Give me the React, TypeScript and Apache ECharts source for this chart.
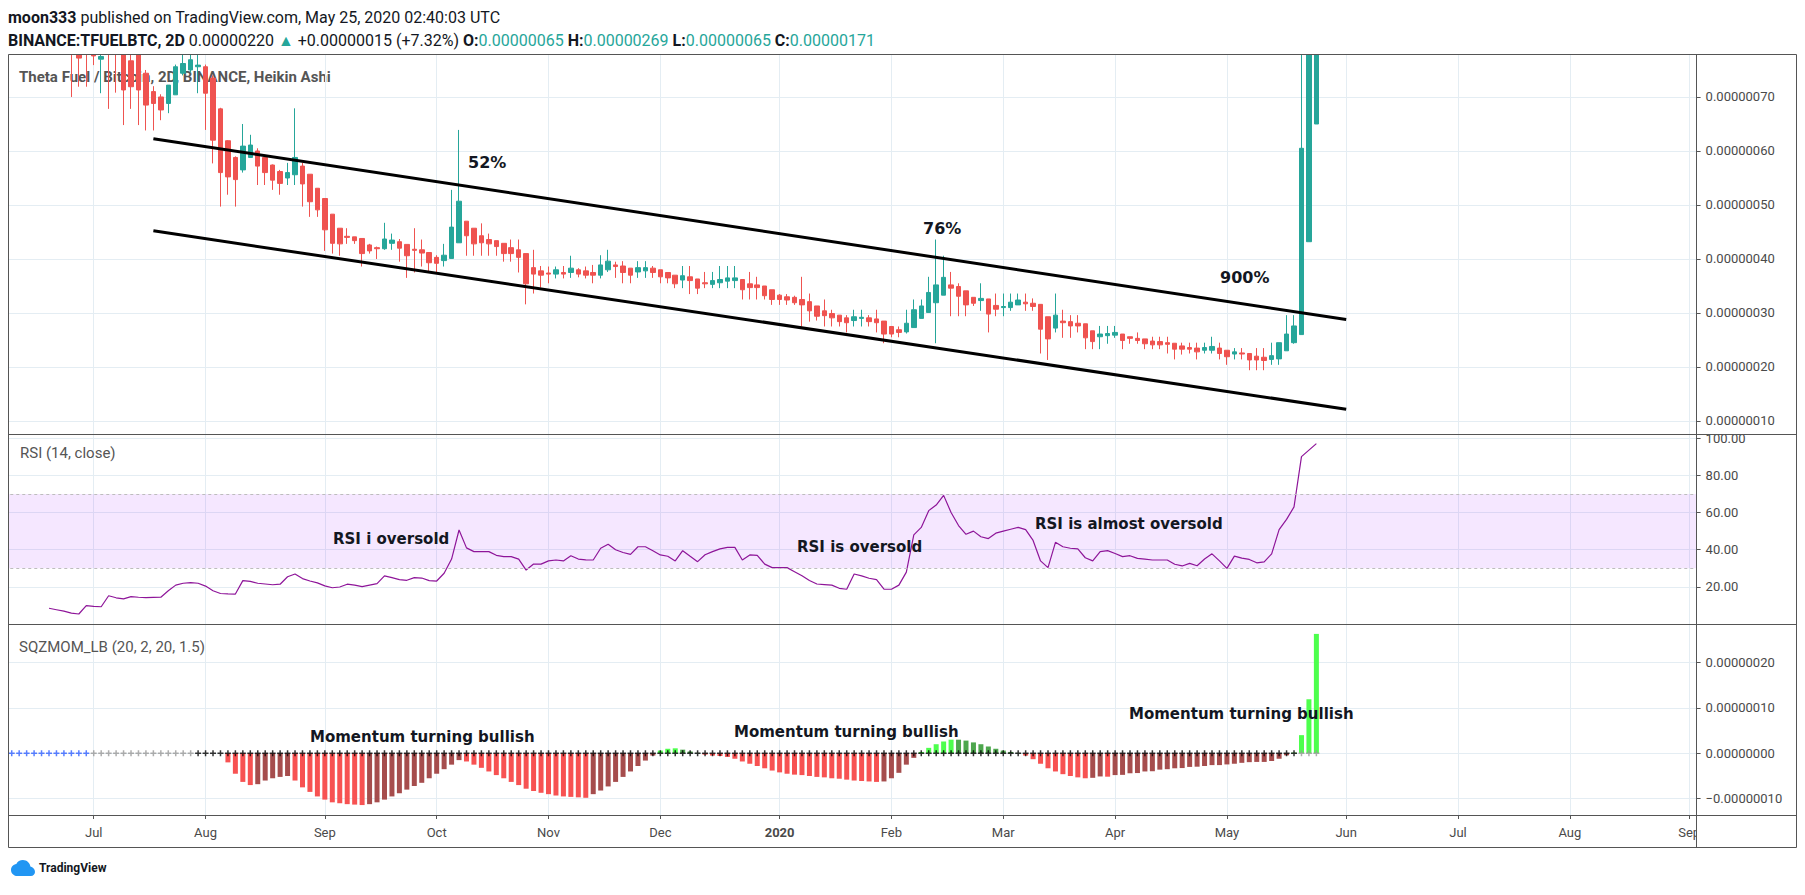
import React, { useEffect, useRef } from "react";
import * as echarts from "echarts";

// ---------------- time axis (2-day bars) ----------------
const DAY = 86400000;
const AXIS_START_UTC = Date.UTC(2019, 5, 7); // first category (empty)
const BAR_DAYS = 2;
const CATEGORY_COUNT = 228; // Jun 7 2019 .. Sep 3 2020
const MONTH_NAMES = ["Jan", "Feb", "Mar", "Apr", "May", "Jun", "Jul", "Aug", "Sep", "Oct", "Nov", "Dec"];

// ---------------- price: Heikin Ashi candles, in satoshi (1e-8 BTC) ----------------
const CANDLE_START = "2019-06-25";
// [open, close, low, high]
const candlesSat: number[][] = [
  [83, 80, 70, 85], [79, 77.2, 71.9, 81], [80, 78.6, 71.9, 82], [79, 77.6, 75.9, 80], [77, 77.5, 70.7, 80],
  [79, 78, 67.8, 81], [80, 78.5, 70.8, 82], [79, 71.3, 64.8, 80], [76.7, 71.9, 67.8, 78], [79, 71.3, 64.8, 80],
  [74.4, 68.5, 63.8, 75], [71, 68.8, 63.8, 72], [70, 67.6, 65.7, 70.5], [68.8, 72.2, 67, 72.2], [70.4, 75.6, 70.4, 76],
  [74.4, 76.2, 74, 79], [75, 76.9, 74.5, 80], [75.6, 75.9, 70.7, 79], [75.6, 70.7, 63.9, 76], [73.5, 62, 57.7, 74],
  [67.8, 56, 49.7, 68], [61.9, 55.2, 51.9, 62], [58.8, 54.7, 49.7, 59], [56.5, 60.9, 56, 65], [58.8, 61.1, 58.8, 63],
  [60, 57.2, 53.7, 60.5], [58.8, 56, 53.7, 59], [57.4, 54.6, 52.8, 57.5], [56.2, 54, 51.9, 56.5], [55, 56, 53.7, 57.8],
  [55.6, 58.8, 53.7, 67.9], [57.2, 53.9, 49.7, 57.8], [55.7, 50.6, 47.8, 55.7], [53.1, 49.1, 47.8, 53.1], [51.2, 45.4, 41.5, 51.2],
  [48.3, 42.9, 41, 48.3], [45.7, 42.8, 40.6, 45.7], [44.2, 44, 42.8, 45.7], [44.1, 43.4, 42.8, 44.1], [43.8, 41, 38.6, 43.8],
  [42.6, 41.5, 41, 42.8], [42.1, 41.9, 40, 42.3], [41.9, 43.7, 41.7, 46.7], [42.9, 43.5, 41.7, 44.7], [43.2, 42, 39.5, 43.7],
  [42.7, 40.6, 36.5, 42.7], [41.8, 41.6, 37.5, 45.7], [41.7, 41.1, 38.6, 43.6], [41.2, 39.3, 37.7, 41.2], [40.3, 39.2, 37.3, 40.7],
  [39.7, 40.7, 38.6, 42.8], [40.1, 45.9, 40.1, 52.8], [43, 50.7, 43, 63.9], [47, 44.3, 40.6, 47], [45.7, 42.8, 40.6, 45.7],
  [44.3, 43, 40.6, 46.6], [43.6, 42.8, 40.6, 44.7], [43.4, 42.3, 40.6, 43.4], [42.9, 41, 39.5, 42.9], [42.1, 41, 39.5, 43.6],
  [41.7, 40.3, 37.5, 43.6], [41, 35.4, 31.6, 41], [38.4, 37.2, 33.6, 41.7], [37.8, 37, 34.7, 38.7], [37.4, 37.2, 35.5, 38.6],
  [37.2, 38, 36.4, 38.6], [37.5, 37.2, 36.4, 38.7], [37.5, 38.3, 36.5, 40.6], [38, 37.2, 36.6, 38.3], [37.8, 37, 36.4, 38.6],
  [37.5, 37, 35.5, 38.9], [37, 38.9, 36.4, 40.7], [38, 39.6, 37.6, 41.7], [38.9, 38.6, 36.5, 39.5], [38.7, 37.5, 35.5, 39.6],
  [38.3, 37, 35.5, 38.3], [37.6, 38.4, 36.5, 39.6], [37.8, 38.4, 36.5, 39.6], [38.3, 37.5, 36.5, 38.7], [38, 36.7, 35.5, 38],
  [37.5, 36.5, 35.5, 37.5], [37, 35.4, 34.6, 37], [36.1, 36.9, 34.6, 38.7], [36.7, 36, 33.5, 38.7], [36.3, 34.6, 33.5, 36.3],
  [35.6, 35.4, 34.6, 37.6], [35.3, 36, 34.6, 37.6], [35.6, 36.2, 34.6, 38.7], [35.9, 36.5, 34.6, 38.7], [36, 36.5, 34.6, 38.7],
  [36.2, 34.3, 32.5, 36.2], [35.4, 34.7, 32.5, 37.6], [35.2, 34.7, 32.5, 36.7], [35, 33.2, 32.5, 35], [34.3, 32.5, 31.5, 34.3],
  [33.3, 32.5, 31.5, 33.5], [33, 32.4, 31.5, 33.5], [32.9, 31.9, 31.5, 33.2], [32.5, 31.5, 27.5, 36.7], [32.1, 30.4, 28.4, 33.6],
  [31.3, 29.4, 28.6, 31.3], [30.4, 29.5, 27.5, 32.5], [29.9, 29.1, 27.5, 30.6], [29.6, 28.4, 27.5, 29.6], [29.1, 28.2, 26.4, 29.6],
  [28.6, 29.3, 27.5, 30.6], [29, 29.2, 27.5, 30.6], [29.1, 28.4, 27.5, 29.6], [28.9, 28.2, 26.4, 30.6], [28.5, 26.1, 24.4, 28.5],
  [27.5, 26.1, 25.5, 27.5], [26.9, 26.4, 25.5, 27.5], [26.5, 28.1, 26.2, 30.6], [27.3, 30.6, 27.3, 32.5], [29, 31.3, 29, 32.5],
  [30.1, 33.8, 30.1, 36.7], [31.9, 35.2, 24.4, 43.6], [33.3, 36.6, 33.3, 40.6], [35.2, 34.6, 29.4, 37.6], [34.9, 33.1, 29.4, 35.5],
  [34.1, 31.5, 29.4, 34.1], [32.9, 31.8, 31.3, 32.9], [32.3, 32.7, 30.4, 35.5], [32.6, 29.8, 26.4, 32.6], [31.4, 30.7, 29.4, 33.6],
  [31, 31.2, 29.4, 33.6], [31, 32, 30.4, 33.6], [31.5, 32.4, 31.5, 33.6], [32, 31.7, 30.4, 33.6], [31.8, 31.2, 30.4, 32.7],
  [31.6, 27, 22.5, 31.6], [29.3, 25.2, 21.3, 29.3], [27.2, 29.6, 26.4, 33.6], [28.5, 28.2, 25.4, 30.6], [28.4, 27.6, 25.4, 29.6],
  [28.1, 27.6, 26.4, 29.6], [28, 25.4, 23.3, 28], [26.7, 24.7, 23.3, 26.7], [25.6, 26.1, 23.3, 27.6], [25.8, 26.2, 24.3, 27.6],
  [25.9, 26.4, 25.4, 27.6], [26.1, 24.9, 23.3, 26.1], [25.6, 25.3, 24.3, 25.6], [25.3, 24.9, 24.3, 26.4], [25.2, 24.3, 23.3, 25.2],
  [24.8, 24.1, 23.3, 25.6], [24.7, 24.1, 23.3, 25.6], [24.5, 24.2, 22.5, 25.6], [24.4, 23.3, 21.4, 24.4], [23.9, 23.3, 22.3, 24.5],
  [23.6, 23.3, 22.5, 24.5], [23.5, 22.8, 21.4, 24.5], [23.1, 23.6, 22.5, 24.5], [23.1, 23.8, 22.5, 25.6], [23.5, 22.5, 21.4, 24.5],
  [23.1, 21.9, 20.4, 23.1], [22.4, 22.8, 21.4, 23.5], [22.6, 22.4, 21.4, 23.5], [22.5, 21.3, 19.4, 22.5], [22, 21.3, 19.4, 23.5],
  [21.8, 21.2, 19.4, 23.5], [21.4, 22.1, 20.4, 24.5], [21.5, 24.5, 20.4, 24.5], [23, 26.1, 23, 29.6], [24.5, 27.6, 24.3, 29.6],
  [26, 60.5, 26, 110], [43.2, 86.8, 43.2, 150], [65, 171, 65, 269],
];

// descending channel drawn on the chart: [date, price in satoshi]
const channelUpper: [string, number][] = [["2019-07-17", 62.28], ["2020-06-01", 28.79]];
const channelLower: [string, number][] = [["2019-07-17", 45.21], ["2020-06-01", 12.17]];

// ---------------- RSI (14, close) ----------------
const RSI_START = "2019-06-19";
const rsiValues: number[] = [
  8.6, 7.8, 7.0, 6.0, 5.5, 10, 9.6, 9.4, 15.3, 14.2,
  13.6, 14.8, 14.5, 14.3, 14.4, 14.5, 18, 21, 22, 22.3,
  22, 20.5, 18, 16.5, 16.3, 16.2, 23.4, 23, 22, 21.6,
  21.2, 21.5, 25.5, 27, 24.5, 23.2, 22.2, 20.6, 19.6, 20,
  21.5, 21, 20.2, 21, 21.8, 26, 25, 24, 23.6, 25,
  24.8, 23.4, 23.2, 27.4, 35, 50.6, 41, 39, 39, 39,
  37, 36.3, 36.3, 35, 29.1, 32.3, 32.3, 34, 34.5, 34,
  36.8, 35, 34.6, 34.5, 40.8, 43, 40, 38.5, 37.5, 41.6,
  41.6, 39.5, 37.2, 36.5, 34, 39.5, 36.5, 33.6, 37.3, 39,
  40.5, 41.3, 41.3, 34.5, 37.2, 37, 32.3, 30.4, 30.4, 30.4,
  28.2, 26, 23.5, 21.6, 21.3, 21, 19.3, 18.8, 27, 26,
  24.7, 24, 18.8, 18.8, 21, 28, 48, 52, 61, 64,
  69.2, 60, 53, 48.3, 50, 47, 46, 48.9, 50, 51,
  52, 50.8, 45, 34, 30.4, 44, 41.6, 40.8, 40.5, 35.7,
  34, 39, 39.5, 38, 36.3, 36.8, 35.4, 35, 34.5, 34.5,
  34.5, 32.2, 31.3, 32.7, 31.4, 35, 37.8, 34, 30, 36.6,
  35.5, 34.8, 33, 33.5, 37.8, 50.8, 56.3, 63, 90, 93.5, 97,
];
const RSI_BAND: [number, number] = [30, 70];

// ---------------- Squeeze momentum (LazyBear), in satoshi ----------------
const SQZ_START = "2019-08-06";
const sqzMomentum: number[] = [
  -2.0, -4.5, -6.3, -7.0, -6.8, -6.0, -5.5, -5.2, -5.0, -6.0,
  -7.5, -8.5, -9.5, -10.2, -10.8, -11.0, -11.2, -11.3, -11.4, -11.2,
  -10.8, -10.2, -9.5, -8.8, -8.0, -7.2, -6.5, -5.5, -4.5, -3.5,
  -2.5, -1.5, -1.8, -2.5, -3.2, -4.0, -4.8, -5.5, -6.3, -7.0,
  -7.8, -8.3, -8.7, -9.0, -9.3, -9.5, -9.6, -9.7, -9.8, -9.0,
  -8.2, -7.3, -6.3, -5.2, -4.0, -2.8, -1.6, -0.5, 0.6, 1.0,
  1.1, 0.8, 0.4, 0.1, -0.3, -0.5, -0.6, -0.8, -1.2, -1.8,
  -2.3, -2.8, -3.3, -3.8, -4.2, -4.5, -4.7, -4.8, -5.0, -5.2,
  -5.3, -5.5, -5.6, -5.8, -6.0, -6.1, -6.2, -6.3, -6.2, -5.5,
  -4.3, -2.5, -1.0, 0.3, 1.2, 2.0, 2.6, 3.0, 3.0, 2.8,
  2.4, 2.0, 1.5, 1.0, 0.6, 0.3, 0.1, -0.5, -1.3, -2.3,
  -3.3, -4.0, -4.6, -5.0, -5.3, -5.5, -5.4, -5.1, -5.15, -4.8,
  -4.75, -4.4, -4.35, -4.0, -3.95, -3.6, -3.5, -3.3, -3.25, -3.0,
  -2.95, -2.8, -2.6, -2.6, -2.45, -2.3, -2.1, -1.95, -1.9, -1.9,
  -1.7, -1.2, -0.45, 0.15, 4.0, 11.9, 26.3,
];
// squeeze dots on the zero line, as runs from SQZ_DOTS_START: [state, number of bars]
const SQZ_DOTS_START = "2019-06-09";
const sqzDotRuns: [string, number][] = [["noSqz", 11], ["off", 14], ["on", 148], ["off", 3]];

// ---------------- styling ----------------
const UP = "#26a69a";
const DOWN = "#ef5350";
const FRAME = "#555555";
const GRID_LINE = "#e4edf3";
const AXIS_TEXT = "#4a4a4a";
const INK = "#131722";
const SQZ_COLORS = { lime: "#4dff4d", green: "#4da64d", red: "#f75252", maroon: "#a64d4d" };
const DOT_COLORS: Record<string, string> = { noSqz: "#2f5fff", on: "#000000", off: "#999999" };

const CLOUD_PATH =
  "M6.5 16C3 16 0 13.3 0 9.9C0 6.9 2.3 4.4 5.3 4C6.5 1.6 9 0 11.9 0C15.8 0 19 2.9 19.4 6.6C22 7.1 24 9.3 24 12C24 14.2 22.2 16 20 16Z";
echarts.graphic.registerShape("tvCloud", echarts.graphic.extendPath(CLOUD_PATH, {}));

const iso = (t: number) => new Date(t).toISOString().slice(0, 10);
const categories: string[] = Array.from({ length: CATEGORY_COUNT }, (_, i) => iso(AXIS_START_UTC + i * BAR_DAYS * DAY));
const catIndex = (d: string) => categories.indexOf(d);

const isMonthTick = (_i: number, value: string) => {
  const t = Date.parse(value + "T00:00:00Z");
  return new Date(t).getUTCDate() === 1 || new Date(t + DAY).getUTCDate() === 1;
};
const monthLabel = (value: string) => {
  const t = Date.parse(value + "T00:00:00Z");
  const d = new Date(t).getUTCDate() === 1 ? new Date(t) : new Date(t + DAY);
  const m = d.getUTCMonth();
  return m === 0 ? `{y|${d.getUTCFullYear()}}` : MONTH_NAMES[m];
};

const satLabel = (step: number) => (v: number) => {
  if (Math.abs(v / step - Math.round(v / step)) > 1e-6) return "";
  const s = (Math.abs(v) * 1e-8).toFixed(8);
  return v < -1e-9 ? "\u2212" + s : s;
};
const rsiLabel = (v: number) => (Math.abs(v / 20 - Math.round(v / 20)) > 1e-6 ? "" : v.toFixed(2));

function buildOption() {
  const c0 = catIndex(CANDLE_START);
  const candleRows = candlesSat.map((r, i) => [categories[c0 + i], r[0], r[1], r[2], r[3]]);

  const r0 = catIndex(RSI_START);
  const rsiRows = rsiValues.map((v, i) => [categories[r0 + i], v]);

  const s0 = catIndex(SQZ_START);
  const sqzRows = sqzMomentum.map((v, i) => {
    const prev = i > 0 ? sqzMomentum[i - 1] : 0;
    const color = v > 0 ? (v > prev ? SQZ_COLORS.lime : SQZ_COLORS.green) : v < prev ? SQZ_COLORS.red : SQZ_COLORS.maroon;
    return { value: [categories[s0 + i], v], itemStyle: { color } };
  });

  const d0 = catIndex(SQZ_DOTS_START);
  const dotRows: any[] = [];
  let k = d0;
  sqzDotRuns.forEach(([state, n]) => {
    for (let j = 0; j < n; j++) {
      dotRows.push({ value: [categories[k], 0], itemStyle: { color: DOT_COLORS[state] } });
      k++;
    }
  });

  const gridLeft = 4.27;
  const gridRight = 1805 - 1696.6;
  const grids = [
    { left: gridLeft, right: gridRight, top: 54, height: 380 },
    { left: gridLeft, right: gridRight, top: 434, height: 190 },
    { left: gridLeft, right: gridRight, top: 624, height: 191 },
  ].map((g) => ({ ...g, containLabel: false, outerBoundsMode: "none" }));

  const labelFont = { fontFamily: "Roboto", fontSize: 13, color: AXIS_TEXT };
  const xAxis = [0, 1, 2].map((gi) => ({
    type: "category",
    gridIndex: gi,
    data: categories,
    boundaryGap: false,
    position: "bottom",
    axisLine: { show: false, onZero: false },
    axisTick: { show: gi === 2, interval: isMonthTick, alignWithLabel: true, length: 4, lineStyle: { color: FRAME } },
    axisLabel: {
      show: gi === 2,
      interval: isMonthTick,
      formatter: monthLabel,
      margin: 11,
      ...labelFont,
      rich: { y: { ...labelFont, fontWeight: "bold" } },
    },
    splitLine: { show: true, interval: isMonthTick, lineStyle: { color: GRID_LINE, width: 1 } },
  }));

  const yBase = (gi: number, min: number, max: number, step: number, fmt: (v: number) => string) => ({
    type: "value",
    gridIndex: gi,
    position: "right",
    min,
    max,
    minInterval: step,
    maxInterval: step,
    axisLine: { show: false, onZero: false },
    axisTick: { show: true, length: 4, lineStyle: { color: FRAME } },
    axisLabel: { margin: 9, ...labelFont, formatter: fmt },
    splitLine: { show: true, lineStyle: { color: GRID_LINE, width: 1 } },
  });
  const yAxis = [
    yBase(0, 7.59, 77.96, 10, satLabel(10)),
    yBase(1, 0.13, 102.15, 20, rsiLabel),
    yBase(2, -13.59, 28.48, 10, satLabel(10)),
  ];

  const ann = (text: string, x: number, y: number, size: number) => ({
    type: "text",
    x,
    y,
    z: 50,
    silent: true,
    style: {
      text,
      fill: INK,
      fontFamily: "DejaVu Sans",
      fontWeight: "bold",
      fontSize: size,
      textAlign: "left",
      align: "left",
      textVerticalAlign: "middle",
      verticalAlign: "middle",
    },
  });
  const plain = (text: string, x: number, y: number, size: number, fill: string, weight = "normal", z = 1) => ({
    type: "text",
    x,
    y,
    z,
    silent: true,
    style: {
      text,
      fill,
      fontFamily: "Roboto",
      fontWeight: weight,
      fontSize: size,
      textAlign: "left",
      align: "left",
      textVerticalAlign: "middle",
      verticalAlign: "middle",
    },
  });
  const hline = (y: number, x1 = 8.5, x2 = 1796.5) => ({
    type: "line",
    z: 100,
    silent: true,
    shape: { x1, y1: y, x2, y2: y },
    style: { stroke: FRAME, lineWidth: 1 },
  });
  const vline = (x: number, y1 = 54.5, y2 = 847.5) => ({
    type: "line",
    z: 100,
    silent: true,
    shape: { x1: x, y1, x2: x, y2 },
    style: { stroke: FRAME, lineWidth: 1 },
  });
  const richHeader = (text: string, y: number) => {
    const base = { fontFamily: "Roboto", fontSize: 16, fill: INK, color: INK };
    return {
      type: "text",
      x: 8,
      y,
      z: 60,
      silent: true,
      style: {
        text,
        ...base,
        textVerticalAlign: "middle",
        verticalAlign: "middle",
        rich: {
          b: { ...base, fontWeight: "bold" },
          t: { ...base, fill: UP, color: UP },
        },
      },
    };
  };

  const graphic = [
    // white header band masks the parts of tall candles that rise above the price pane
    { type: "rect", z: 40, silent: true, shape: { x: 0, y: 0, width: 1805, height: 54 }, style: { fill: "#ffffff" } },
    richHeader("{b|moon333} published on TradingView.com, May 25, 2020 02:40:03 UTC", 17),
    richHeader(
      "{b|BINANCE:TFUELBTC, 2D} 0.00000220 {t|\u25B2} +0.00000015 (+7.32%) {b|O:}{t|0.00000065} {b|H:}{t|0.00000269} {b|L:}{t|0.00000065} {b|C:}{t|0.00000171}",
      40
    ),
    plain("Theta Fuel / Bitcoin, 2D, BINANCE, Heikin Ashi", 19, 77, 15, "#555555", "bold", 0),
    plain("RSI (14, close)", 20, 453, 15, "#555555"),
    plain("SQZMOM_LB (20, 2, 20, 1.5)", 19, 647, 15, "#555555"),
    ann("52%", 468, 162, 16),
    ann("76%", 923, 228, 16),
    ann("900%", 1220, 277, 16),
    ann("RSI i oversold", 333, 539, 15),
    ann("RSI is oversold", 797, 547, 15),
    ann("RSI is almost oversold", 1035, 524, 15),
    ann("Momentum turning bullish", 310, 737, 15),
    ann("Momentum turning bullish", 734, 732, 15),
    ann("Momentum turning bullish", 1129, 714, 15),
    { type: "rect", z: 90, silent: true, shape: { x: 0, y: 40, width: 8, height: 820 }, style: { fill: "#ffffff" } },
    { type: "rect", z: 90, silent: true, shape: { x: 1697, y: 816, width: 100, height: 31 }, style: { fill: "#ffffff" } },
    hline(54.5),
    hline(434.5),
    hline(624.5),
    hline(815.5),
    hline(847.5),
    vline(8.5),
    vline(1696.5),
    vline(1796.5),
    {
      type: "tvCloud",
      x: 11,
      y: 860,
      scaleX: 1,
      scaleY: 1,
      z: 50,
      silent: true,
      style: { fill: "#2196f3", stroke: "#2196f3", lineWidth: 0 },
    },
    plain("TradingView", 39, 868, 12, "#131722", "bold", 50),
  ];

  return {
    animation: false,
    backgroundColor: "#ffffff",
    grid: grids,
    xAxis,
    yAxis,
    graphic,
    series: [
      {
        type: "candlestick",
        name: "TFUELBTC",
        xAxisIndex: 0,
        yAxisIndex: 0,
        data: candleRows,
        encode: { x: 0, y: [1, 2, 3, 4] },
        barWidth: 5,
        clip: true,
        itemStyle: { color: UP, color0: DOWN, borderColor: UP, borderColor0: DOWN, borderWidth: 1 },
        markLine: {
          silent: true,
          symbol: ["none", "none"],
          label: { show: false },
          lineStyle: { color: "#000000", width: 3, type: "solid" },
          data: [
            [{ coord: channelUpper[0] }, { coord: channelUpper[1] }],
            [{ coord: channelLower[0] }, { coord: channelLower[1] }],
          ],
        },
      },
      {
        type: "line",
        name: "RSI",
        xAxisIndex: 1,
        yAxisIndex: 1,
        data: rsiRows,
        showSymbol: false,
        symbol: "none",
        lineStyle: { color: "#8e1599", width: 1.2 },
        markArea: {
          silent: true,
          itemStyle: { color: "rgba(153, 21, 255, 0.1)" },
          data: [[{ yAxis: RSI_BAND[0] }, { yAxis: RSI_BAND[1] }]],
        },
        markLine: {
          silent: true,
          symbol: ["none", "none"],
          label: { show: false },
          lineStyle: { color: "#bdbdbd", width: 1, type: [3, 3] },
          data: [{ yAxis: RSI_BAND[1] }, { yAxis: RSI_BAND[0] }],
        },
      },
      {
        type: "bar",
        name: "SQZMOM",
        xAxisIndex: 2,
        yAxisIndex: 2,
        data: sqzRows,
        barWidth: 5,
      },
      {
        type: "scatter",
        name: "squeeze",
        xAxisIndex: 2,
        yAxisIndex: 2,
        data: dotRows,
        symbol: "path://M0,2.25H2.25V0H3.75V2.25H6V3.75H3.75V6H2.25V3.75H0Z",
        symbolSize: 6,
        z: 4,
      },
    ],
  };
}

export default function App() {
  const ref = useRef<HTMLDivElement>(null);
  useEffect(() => {
    if (!ref.current) return;
    const chart = echarts.init(ref.current, null, { renderer: "svg" });
    chart.setOption(buildOption() as any);
    return () => chart.dispose();
  }, []);
  return (
    <div
      ref={ref}
      style={{ position: "fixed", left: 0, top: 0, width: 1805, height: 895, background: "#ffffff" }}
    />
  );
}
